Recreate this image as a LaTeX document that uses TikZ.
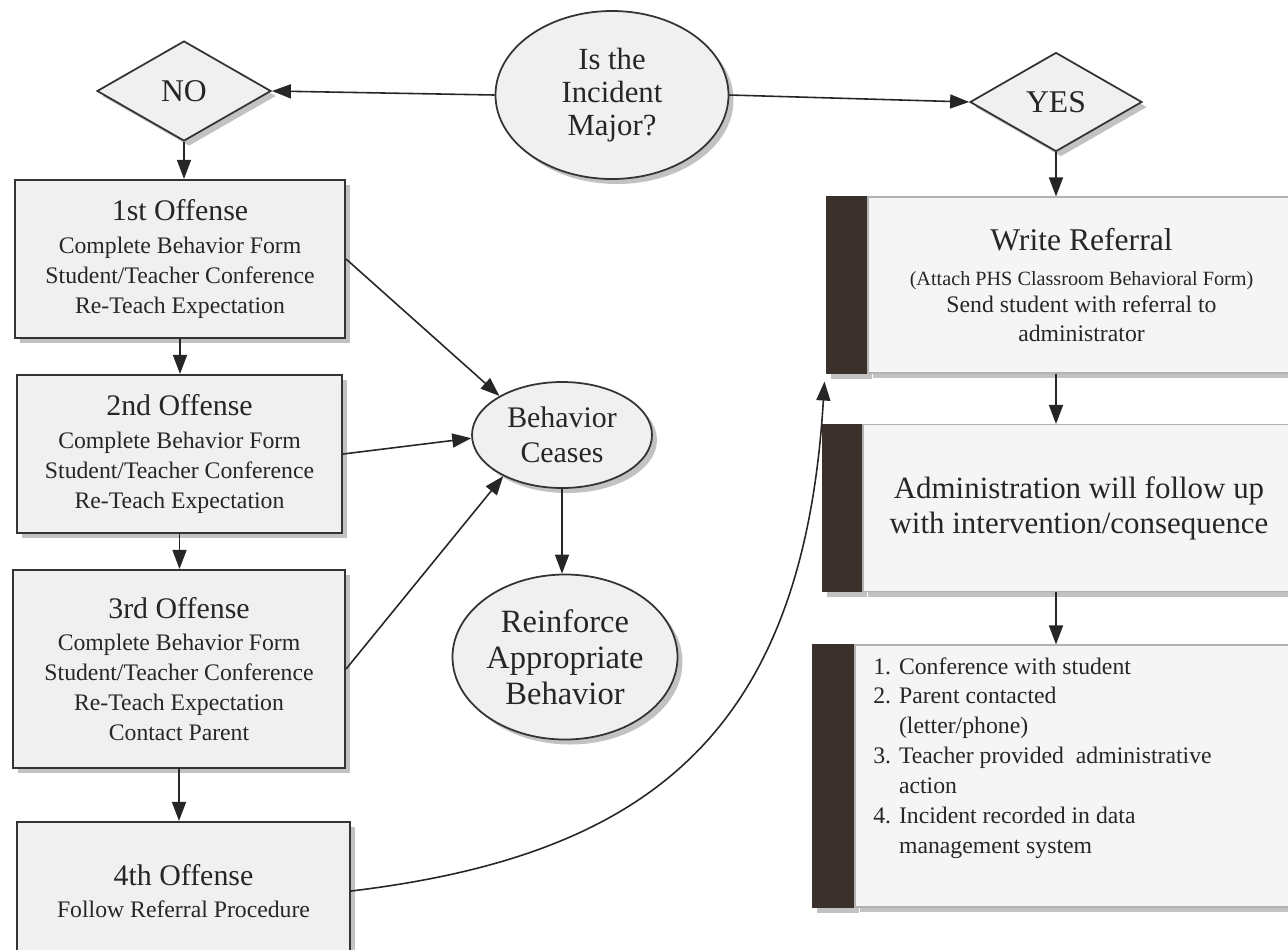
\documentclass[tikz,border=0pt]{standalone}
\usepackage{fontspec}
\setmainfont{Liberation Serif}
\usetikzlibrary{shapes.geometric,arrows.meta,shadows,backgrounds}
\definecolor{boxfill}{HTML}{F0F0F0}
\definecolor{barcol}{HTML}{3A302C}
\newcommand\hdfont{\fontsize{17}{20}\selectfont}
\newcommand\bdfont{\fontsize{13.5}{17}\selectfont}
\tikzset{
  shd/.style={drop shadow={shadow xshift=1mm,shadow yshift=-1mm,fill=black!40,opacity=.6}},
  arr/.style={-{Triangle[length=3.8mm,width=2.8mm]},line width=.9pt,black!85},
  offbox/.style={draw=black!80,line width=1.2pt,fill=boxfill,shd,align=center,inner sep=0pt,font=\bdfont,text=black!85},
  oval/.style={ellipse,draw=black!80,line width=1pt,fill=boxfill,shd,align=center,inner sep=0pt,text=black!85},
  choice/.style={diamond,draw=black!80,line width=1pt,fill=boxfill,shd,inner sep=0pt,font=\fontsize{18}{20}\selectfont,text=black!85},
  rbox/.style={draw=black!30,line width=.6pt,fill=black!4,shd,align=center,inner sep=0pt,text=black!85}
}
\begin{document}
\begin{tikzpicture}[x=.2mm,y=-.2mm]
\useasboundingbox (0,0) rectangle (1288,949);
\node[choice,minimum width=34.8mm,minimum height=20mm] (no) at (184,91) {NO};
\node[oval,minimum width=46.6mm,minimum height=33.6mm,font=\fontsize{17.5}{18.7}\selectfont] (q) at (612,95) {Is the\\Incident\\Major?};
\node[choice,minimum width=34.4mm,minimum height=19.8mm] (yes) at (1056,102) {YES};

\node[offbox,minimum width=66mm,minimum height=31.6mm] (o1) at (180,259) {{\hdfont 1st Offense}\\[1.5pt]Complete Behavior Form\\Student/Teacher Conference\\Re-Teach Expectation};
\node[offbox,minimum width=65mm,minimum height=31.6mm] (o2) at (179.5,454) {{\hdfont 2nd Offense}\\[1.5pt]Complete Behavior Form\\Student/Teacher Conference\\Re-Teach Expectation};
\node[offbox,minimum width=66.4mm,minimum height=39.6mm] (o3) at (179,669) {{\hdfont 3rd Offense}\\[1.5pt]Complete Behavior Form\\Student/Teacher Conference\\Re-Teach Expectation\\Contact Parent};
\node[offbox,minimum width=66.6mm,minimum height=27.6mm] (o4) at (183.5,891) {{\hdfont 4th Offense}\\[1pt]Follow Referral Procedure};

\node[oval,minimum width=36mm,minimum height=21.2mm,font=\fontsize{17}{20}\selectfont] (bc) at (562,435) {Behavior\\Ceases};
\node[oval,minimum width=45mm,minimum height=33mm,font=\fontsize{18.5}{20.4}\selectfont] (rf) at (565,657) {Reinforce\\Appropriate\\Behavior};

\node[rbox,minimum width=85.4mm,minimum height=35.2mm,font=\bdfont] (wr) at (1081.5,285) {{\fontsize{18}{20}\selectfont Write Referral}\\[3pt]{\fontsize{11.5}{14}\selectfont (Attach PHS Classroom Behavioral Form)}\\[-1.7pt]Send student with referral to\\administrator};
\node[rbox,minimum width=86.4mm,minimum height=33.4mm,font=\fontsize{17.6}{20}\selectfont] (adm) at (1079,508) {Administration will follow up\\with intervention/consequence};
\node[rbox,minimum width=88mm,minimum height=52.4mm] (lst) at (1075,776) {};
\node[anchor=north west,align=left,inner sep=0pt,font=\bdfont,text=black!85] (lsttxt) at (873,657) {1. Conference with student\\2. Parent contacted\\\phantom{2. }(letter/phone)\\3. Teacher provided\ \ administrative\\\phantom{3. }action\\4. Incident recorded in data\\\phantom{4. }management system};

\begin{scope}[on background layer]
\fill[barcol,shd] (wr.north west) rectangle ([xshift=-8.2mm]wr.south west);
\fill[barcol,shd] (adm.north west) rectangle ([xshift=-8mm]adm.south west);
\fill[barcol,shd] (lst.north west) rectangle ([xshift=-8.4mm]lst.south west);
\end{scope}
\coordinate (wrc) at ([xshift=-8.6mm,yshift=-1.6mm]wr.south west);

\draw[arr] (q.west) -- (no.east);
\draw[arr] (q.east) -- (yes.west);
\draw[arr] (no.south) -- (no.south |- o1.north);
\draw[arr] (o1.south) -- (o1.south |- o2.north);
\draw[arr] (o2.south) -- (o2.south |- o3.north);
\draw[arr] (o3.south) -- (o3.south |- o4.north);
\draw[arr] (o1.east) -- (bc.148);
\draw[arr] (o2.east) -- (bc.182);
\draw[arr] (o3.east) -- (bc.215);
\draw[arr] (bc.south) -- (bc.south |- rf.north);
\draw[arr] (yes.south) -- (yes.south |- wr.north);
\draw[arr] (yes.south |- wr.south) -- (yes.south |- adm.north);
\draw[arr] (yes.south |- adm.south) -- (yes.south |- lst.north);
\draw[arr] (o4.east) .. controls +(300,-36) and +(-21,350) .. (wrc);
\end{tikzpicture}
\end{document}
